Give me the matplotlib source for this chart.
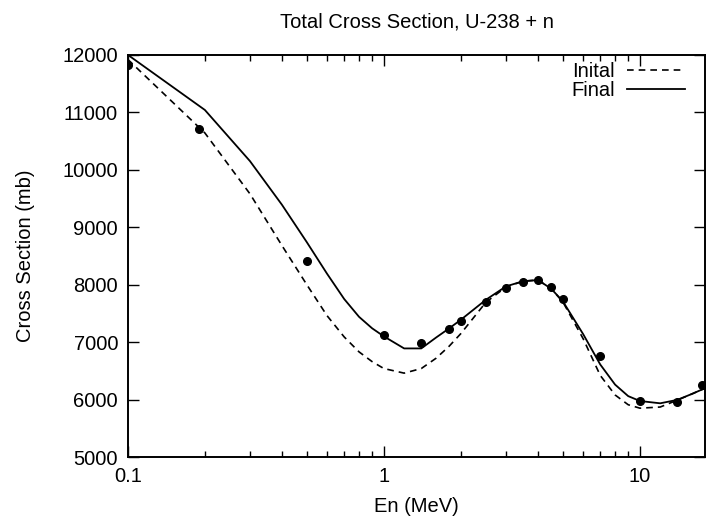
import numpy as np
import matplotlib
matplotlib.use("Agg")
import matplotlib.pyplot as plt
from matplotlib.ticker import FixedLocator, NullFormatter

plt.rcParams['font.family'] = ['Liberation Sans', 'DejaVu Sans']

# energy grid of the model curves (MeV)
energy = [0.1, 0.2, 0.3, 0.4, 0.5, 0.6, 0.7, 0.8, 0.9, 1.0, 1.2, 1.4, 1.6,
          1.8, 2.0, 2.5, 3.0, 3.5, 4.0, 4.5, 5.0, 6.0, 7.0, 8.0, 9.0, 10.0,
          12.0, 14.0, 16.0, 18.0]

# initial parameters (dashed)
sigma_init = [11920, 10640, 9580, 8680, 8000, 7460, 7090, 6830, 6660, 6540,
              6460, 6540, 6720, 6930, 7150, 7690, 7960, 8060, 8080, 7930,
              7700, 7060, 6420, 6080, 5910, 5850, 5870, 5990, 6100, 6200]

# final fit (solid)
sigma_final = [12000, 11040, 10150, 9390, 8740, 8190, 7750, 7440, 7240, 7100,
               6890, 6890, 7080, 7240, 7390, 7735, 7970, 8060, 8080, 7930,
               7710, 7140, 6610, 6260, 6060, 5975, 5935, 5995, 6100, 6200]

# measured points
e_exp = [0.1, 0.19, 0.5, 1.0, 1.4, 1.8, 2.0, 2.5, 3.0, 3.5, 4.0, 4.5, 5.0,
         7.0, 10.0, 14.0, 17.5]
sigma_exp = [11830, 10710, 8420, 7120, 6980, 7230, 7370, 7700, 7940, 8045,
             8080, 7960, 7750, 6760, 5970, 5955, 6250]

fig = plt.figure(figsize=(7.06, 5.17), dpi=100)
ax = fig.add_axes([0.181, 0.116, 0.818, 0.778])

ax.plot(energy, sigma_init, color='black', lw=1.2, ls=(0, (4, 3)), label='Inital')
ax.plot(energy, sigma_final, color='black', lw=1.3, ls='-', label='Final')
ax.plot(e_exp, sigma_exp, 'o', color='black', ms=5.5, zorder=3)

ax.set_xscale('log')
ax.set_xlim(0.1, 18)
ax.set_ylim(5000, 12000)

ax.xaxis.set_major_locator(FixedLocator([0.1, 1, 10]))
ax.set_xticklabels(['0.1', '1', '10'])
minors = [m * d for d in (0.1, 1, 10) for m in range(2, 10)]
ax.xaxis.set_minor_locator(FixedLocator(minors))
ax.xaxis.set_minor_formatter(NullFormatter())
ax.set_yticks(range(5000, 12001, 1000))

ax.tick_params(which='both', direction='in', top=True, right=True,
               labelsize=14.5, pad=7)
ax.tick_params(which='major', length=8, width=1)
ax.tick_params(which='minor', length=4, width=1)
for s in ax.spines.values():
    s.set_linewidth(1.4)

ax.set_title('Total Cross Section, U-238 + n', fontsize=14.5, pad=20)
ax.set_xlabel('En (MeV)', fontsize=14.5, labelpad=8)
ax.set_ylabel('Cross Section (mb)', fontsize=14.5, labelpad=20)

ax.legend(loc='upper right', bbox_to_anchor=(0.99, 1.018), frameon=False,
          markerfirst=False, fontsize=14.5, handlelength=2.9,
          handletextpad=0.6, labelspacing=0.0, borderpad=0.2)

fig.savefig('out.png', dpi=100)
